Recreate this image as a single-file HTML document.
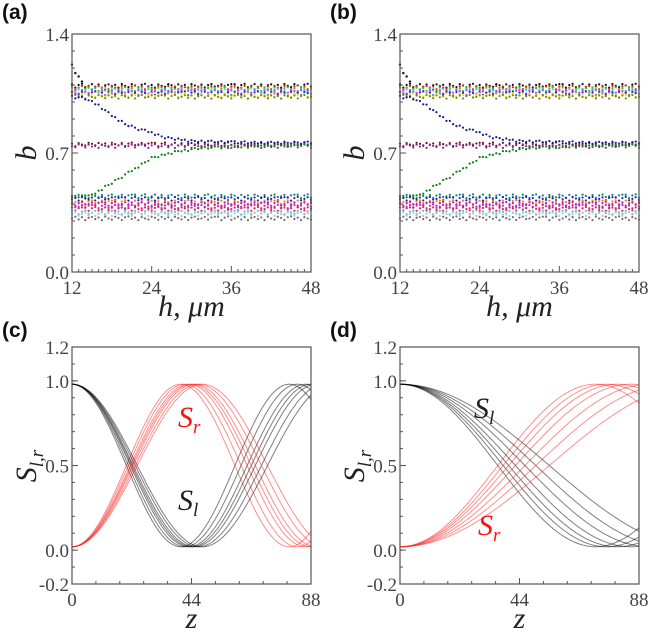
<!DOCTYPE html>
<html><head><meta charset="utf-8">
<style>
html,body{margin:0;padding:0;background:#fff;}
svg{display:block;}
</style></head>
<body>
<svg id="fig" width="651" height="640" viewBox="0 0 651 640"></svg>
<script>
// ---------- data ----------
const hValues = []; for (let i = 0; i <= 72; i++) hValues.push(12 + i * 0.5);
const jitter = [0.01,-0.01,0.005,0.012,-0.008,0.0,0.01,-0.006,0.008,-0.01,0.004,0.009,-0.004,0.006,-0.01,0.011,0.0,-0.007,0.01,0.003,-0.009,0.007,0.012,-0.003,0.005,-0.01,0.008,0.0,-0.006,0.01,0.004,-0.008,0.009,-0.002,0.006,-0.01,0.01,0.002,-0.005,0.008,-0.009,0.005,0.011,-0.004,0.0,0.009,-0.007,0.006,0.01];
const bandLevels = [1.095,1.085,1.075,1.065,1.06,1.05,1.04,1.03,0.75,0.74,0.445,0.43,0.41,0.40,0.385,0.37,0.35,0.34,0.315];
const bandColors = ["#111","#e02020","#20d020","#20d8e8","#e030e0","#2030c0","#e8e020","#808020","#800030","#803080","#108080","#2020c0","#ff8000","#a020e0","#e02090","#e02050","#40c0ff","#c0c0c0","#707070"];
const blueKnots = [[12,1.03],[14,1.02],[16,0.98],[18,0.92],[20,0.87],[22,0.84],[24,0.82],[26,0.79],[28,0.78],[30,0.77],[34,0.765],[40,0.76],[48,0.76]];
const greenKnots = [[12,0.44],[15,0.45],[17,0.5],[20,0.57],[22,0.62],[24,0.67],[26,0.69],[28,0.71],[32,0.73],[40,0.74],[48,0.75]];
const blackStart = [[12,1.22],[12.5,1.17],[13,1.15],[13.5,1.12]];
const lengthsC = [40,41.5,43,44,45,46.5,48];
const lengthsD = [72,76,80,85,92,100,110];

const SERIF='"Liberation Serif", "DejaVu Serif", serif';
const NS="http://www.w3.org/2000/svg";
const svg=document.getElementById('fig');
function el(tag,attrs,parent){const e=document.createElementNS(NS,tag);for(const k in attrs)e.setAttribute(k,attrs[k]);(parent||svg).appendChild(e);return e;}
function interp(knots,x){for(let i=0;i<knots.length-1;i++){if(x>=knots[i][0]&&x<=knots[i+1][0]){const t=(x-knots[i][0])/(knots[i+1][0]-knots[i][0]);return knots[i][1]+t*(knots[i+1][1]-knots[i][1]);}}return knots[knots.length-1][1];}
function tick(g,x,y,anchor,s){const t=el('text',{x:x,y:y,'text-anchor':anchor,'font-family':SERIF,'font-size':19,fill:'#444'},g);t.textContent=s;return t;}
function ttl(g,attrs){return el('text',Object.assign({'font-family':SERIF,'font-style':'italic','font-size':30,fill:'#222'},attrs),g);}
function plabel(g,x,y,s){const t=el('text',{x:x,y:y,'font-family':'"Liberation Sans", sans-serif','font-weight':'bold','font-size':21,fill:'#111'},g);t.textContent=s;
  
  }

function panelScatter(ox,name,letter){
  const g=el('g',{});
  
  
  const x0=ox+72,x1=ox+311,y0=34,y1=272;
  const sx=h=>x0+(h-12)/36*(x1-x0), sy=v=>y1-v/1.4*(y1-y0);
  const pts=el('g',{},g);
  
  
  bandLevels.forEach((lv,s)=>{hValues.forEach((h,i)=>{
    el('circle',{cx:sx(h),cy:sy(lv+jitter[(i+s*3)%jitter.length]),r:1.1,fill:bandColors[s]},pts);
  });});
  hValues.forEach((h,i)=>{
    el('circle',{cx:sx(h),cy:sy(interp(blueKnots,h)+jitter[i%jitter.length]*0.6),r:1.1,fill:'#1a1a90'},pts);
    el('circle',{cx:sx(h),cy:sy(interp(greenKnots,h)+jitter[(i+5)%jitter.length]*0.6),r:1.1,fill:'#108010'},pts);
  });
  blackStart.forEach(p=>el('circle',{cx:sx(p[0]),cy:sy(p[1]),r:1.2,fill:'#111'},pts));
  el('rect',{x:x0,y:y0,width:x1-x0,height:y1-y0,fill:'none',stroke:'#555','stroke-width':1.2},g);
  [12,24,36,48].forEach(t=>{el('line',{x1:sx(t),x2:sx(t),y1:y1,y2:y1-6,stroke:'#555'},g);tick(g,sx(t),y1+22,'middle',t);});
  for(let t=13;t<48;t++) if((t-12)%12) el('line',{x1:sx(t),x2:sx(t),y1:y1,y2:y1-3,stroke:'#555'},g);
  [0,0.7,1.4].forEach(t=>{el('line',{x1:x0,x2:x0+6,y1:sy(t),y2:sy(t),stroke:'#555'},g);tick(g,x0-3,sy(t)+7,'end',t.toFixed(1));});
  for(let i=1;i<14;i++) el('line',{x1:x0,x2:x0+3,y1:sy(i/10),y2:sy(i/10),stroke:'#555'},g);
  const xl=ttl(g,{x:(x0+x1)/2,y:316,'text-anchor':'middle'});xl.textContent='h, μm';
  
  
  const yl=ttl(g,{x:0,y:0,'text-anchor':'middle',transform:`translate(${ox+36},153) rotate(-90)`});yl.textContent='b';
  
  
  plabel(g,ox+2,19,letter);
}

function panelCurves(ox,name,letter,lengths,slPos,srPos){
  const g=el('g',{});
  
  
  const x0=ox+72,x1=ox+311,y0=347,y1=584;
  const sx=z=>x0+z/88*(x1-x0), sy=v=>y1-(v+0.2)/1.4*(y1-y0);
  lengths.forEach((L,k)=>{
    let dl='',dr='';
    for(let z=0;z<=88;z+=0.5){const c=Math.cos(Math.PI*z/(2*L));const sl=0.02+0.96*c*c, sr=0.02+0.96*(1-c*c);
      dl+=(z?'L':'M')+sx(z).toFixed(1)+','+sy(sl).toFixed(1);dr+=(z?'L':'M')+sx(z).toFixed(1)+','+sy(sr).toFixed(1);}
    const a=el('path',{d:dl,fill:'none',stroke:'#000','stroke-opacity':0.5,'stroke-width':1},g);
    
    
    const b=el('path',{d:dr,fill:'none',stroke:'#ff2020','stroke-opacity':0.5,'stroke-width':1},g);
    
    
  });
  el('rect',{x:x0,y:y0,width:x1-x0,height:y1-y0,fill:'none',stroke:'#555','stroke-width':1.2},g);
  [0,44,88].forEach(t=>{el('line',{x1:sx(t),x2:sx(t),y1:y1,y2:y1-6,stroke:'#555'},g);tick(g,sx(t),y1+22,'middle',t);});
  for(let i=1;i<10;i++){ if(i===5)continue; const t=i*8.8; el('line',{x1:sx(t),x2:sx(t),y1:y1,y2:y1-3,stroke:'#555'},g);}
  [-0.2,0,0.5,1.0,1.2].forEach(t=>{el('line',{x1:x0,x2:x0+6,y1:sy(t),y2:sy(t),stroke:'#555'},g);tick(g,x0-3,sy(t)+7,'end',t.toFixed(1));});
  for(let i=-1;i<12;i++) el('line',{x1:x0,x2:x0+3,y1:sy(i/10),y2:sy(i/10),stroke:'#555'},g);
  const xl=ttl(g,{x:(x0+x1)/2,y:628,'text-anchor':'middle'});xl.textContent='z';
  
  
  const yl=ttl(g,{x:0,y:0,'text-anchor':'middle',transform:`translate(${ox+36},466) rotate(-90)`});
  yl.innerHTML='S<tspan font-size="19" dy="7">l,r</tspan>';
  
  
  const a=ttl(g,{x:slPos[0],y:slPos[1]});a.innerHTML='S<tspan font-size="19" dy="6">l</tspan>';
  
  
  const b=ttl(g,{x:srPos[0],y:srPos[1],fill:'#ff1010'});b.innerHTML='S<tspan font-size="19" dy="6">r</tspan>';
  
  
  plabel(g,ox+2,337,letter);
}

panelScatter(0,'panel-a','(a)');
panelScatter(328,'panel-b','(b)');
panelCurves(0,'panel-c','(c)',lengthsC,[178,510],[178,427]);
panelCurves(328,'panel-d','(d)',lengthsD,[474,418],[478,535]);
</script>
</body></html>
